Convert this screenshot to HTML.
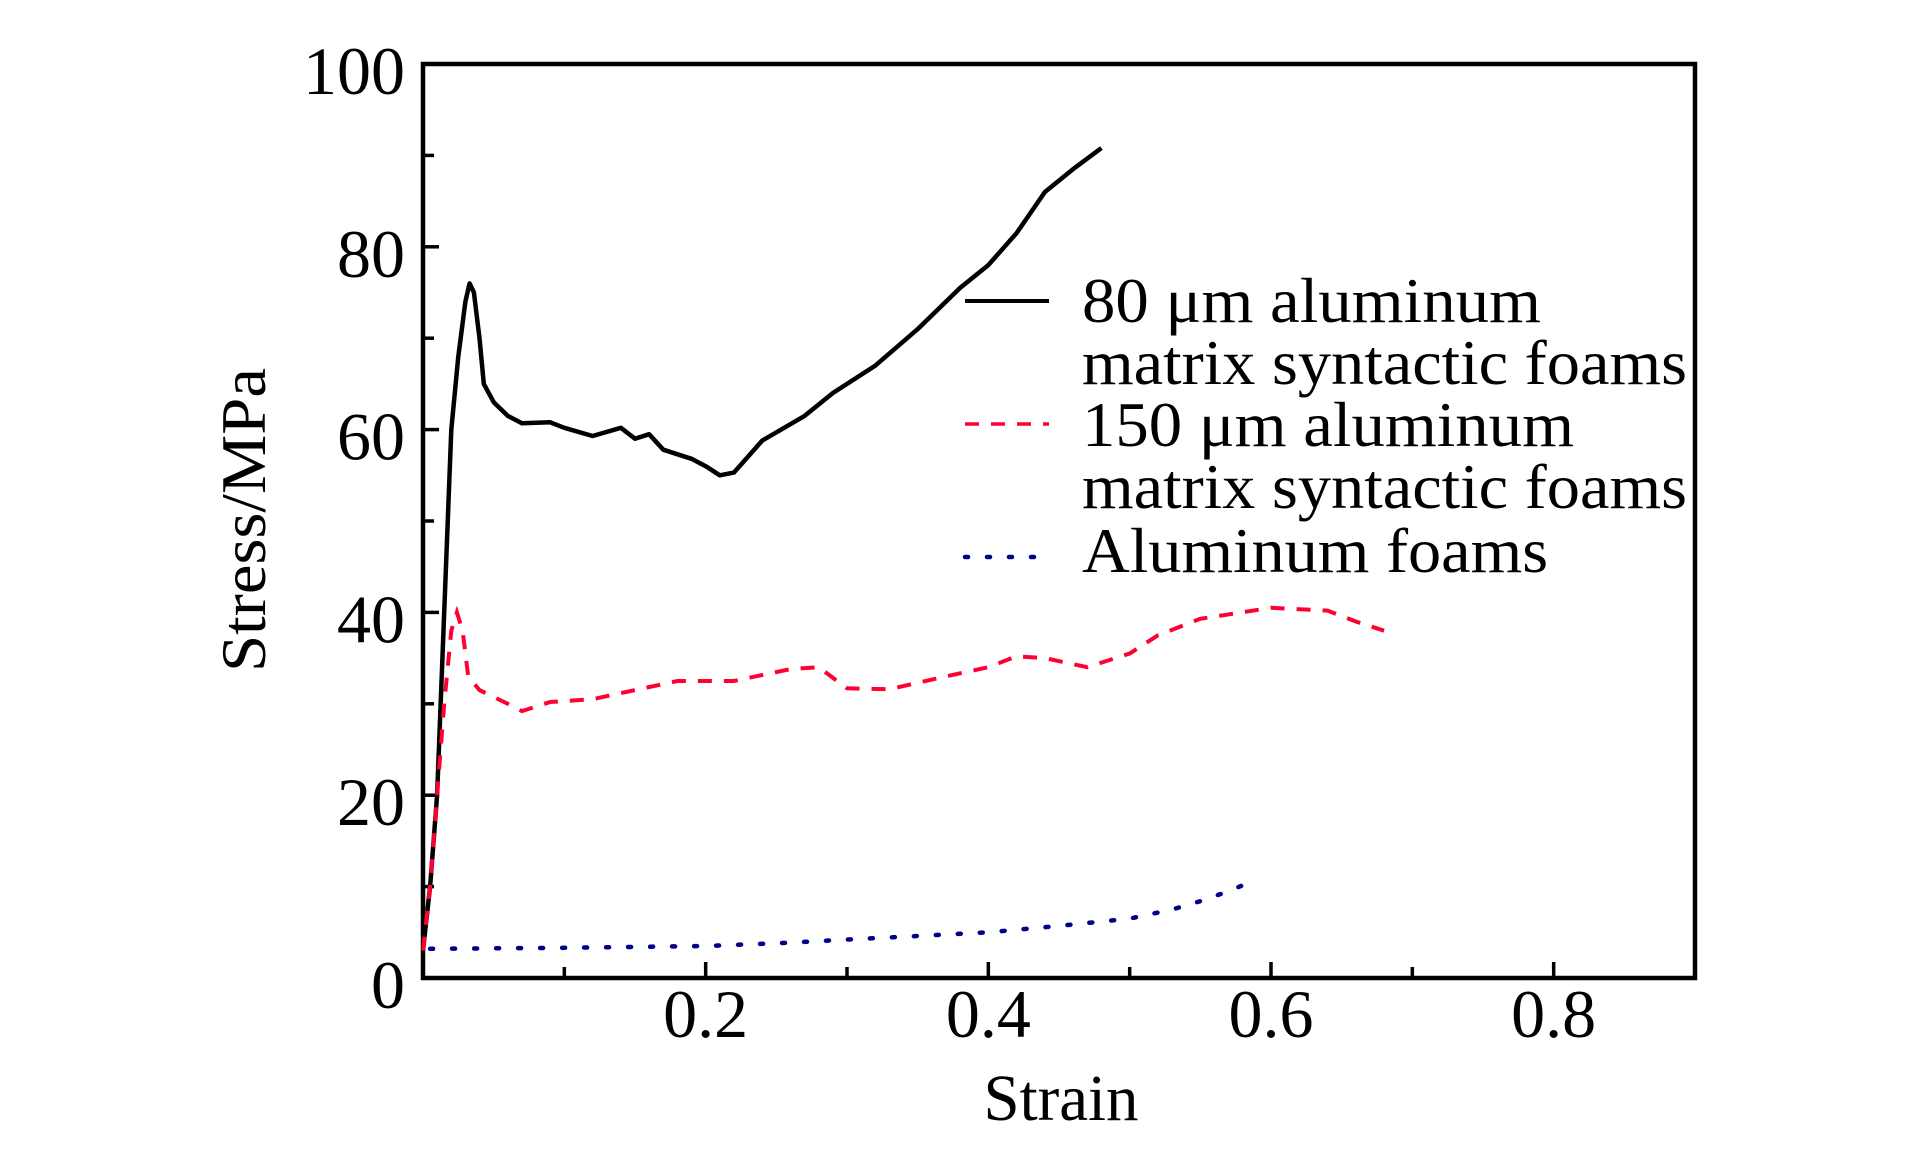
<!DOCTYPE html>
<html><head><meta charset="utf-8"><style>
html,body{margin:0;padding:0;background:#fff;}
svg{display:block;}
text{font-family:"Liberation Serif",serif;fill:#000;}
</style></head><body>
<svg id="chart" width="1923" height="1169" viewBox="0 0 1923 1169">
<g id="axes"></g>
<g id="series"></g>
<g id="legend">
<line x1="965" y1="301" x2="1049" y2="301" stroke="#000" stroke-width="4"/>
<text x="1082" y="322" font-size="64" textLength="459" lengthAdjust="spacingAndGlyphs">80 μm aluminum</text>
<text x="1082" y="384" font-size="64" textLength="605" lengthAdjust="spacingAndGlyphs">matrix syntactic foams</text>
<line x1="965" y1="424" x2="1049" y2="424" stroke="#ff0033" stroke-width="3.5" stroke-dasharray="14,12"/>
<text x="1082" y="446" font-size="64" textLength="492" lengthAdjust="spacingAndGlyphs">150 μm aluminum</text>
<text x="1082" y="508" font-size="64" textLength="605" lengthAdjust="spacingAndGlyphs">matrix syntactic foams</text>
<line x1="965" y1="557" x2="1049" y2="557" stroke="#00008b" stroke-width="4.5" stroke-dasharray="3,19" stroke-linecap="round"/>
<text x="1082" y="572" font-size="64" textLength="466" lengthAdjust="spacingAndGlyphs">Aluminum foams</text>
</g>
<text x="1061" y="1120" font-size="66" text-anchor="middle" textLength="155" lengthAdjust="spacingAndGlyphs">Strain</text>
<text transform="translate(265,520) rotate(-90)" font-size="64" text-anchor="middle" textLength="304" lengthAdjust="spacingAndGlyphs">Stress/MPa</text>
</svg>
<script>
const xTicks=[0.2,0.4,0.6,0.8];
const xTickLabels=["0.2","0.4","0.6","0.8"];
const yTicks=[0,20,40,60,80,100];
const yTickLabels=["0","20","40","60","80","100"];
const s80x=[0,0.005,0.01,0.015,0.02,0.025,0.03,0.033,0.036,0.04,0.043,0.05,0.06,0.07,0.09,0.1,0.12,0.14,0.15,0.16,0.17,0.19,0.2,0.21,0.22,0.24,0.27,0.29,0.32,0.35,0.38,0.4,0.42,0.44,0.46,0.48];
const s80y=[3,10,20,40,60,68,74,76,75,70,65,63,61.5,60.7,60.8,60.2,59.3,60.2,59,59.5,57.8,56.8,56,55,55.3,58.8,61.5,64,67,71,75.5,78,81.5,86,88.5,90.8];
const s150x=[0,0.005,0.01,0.015,0.02,0.024,0.028,0.032,0.04,0.06,0.07,0.09,0.12,0.15,0.18,0.22,0.26,0.28,0.3,0.33,0.37,0.4,0.42,0.44,0.47,0.5,0.52,0.55,0.6,0.64,0.66,0.68];
const s150y=[3,10,20,30,38,40,38,33,31.5,30,29.2,30.2,30.5,31.5,32.5,32.5,33.8,34,31.7,31.6,33,34,35.2,35,34,35.5,37.5,39.3,40.5,40.2,39,38];
const foamX=[0.005,0.1,0.2,0.25,0.3,0.35,0.4,0.45,0.5,0.53,0.55,0.57,0.59];
const foamY=[3.2,3.3,3.5,3.8,4.2,4.6,5,5.7,6.5,7.5,8.4,9.5,10.8];
const L=423,R=1695,T=64,B=978,XMAX=0.9,YMAX=100;
const sx=v=>L+v/XMAX*(R-L), sy=v=>B-v/YMAX*(B-T);
const NS="http://www.w3.org/2000/svg";
const axes=document.getElementById('axes'), series=document.getElementById('series');
function mk(tag,attrs,parent){const e=document.createElementNS(NS,tag);for(const k in attrs)e.setAttribute(k,attrs[k]);parent.appendChild(e);return e;}
const frame=mk('rect',{x:L,y:T,width:R-L,height:B-T,fill:'none',stroke:'#000','stroke-width':4.5},axes);


for(let i=1;i<9;i++){const v=i*0.1;const major=(i%2===0);
 const t=mk('line',{x1:sx(v),x2:sx(v),y1:B,y2:B-(major?16:11),stroke:'#000','stroke-width':3.5},axes);
 
 }
for(let i=1;i<10;i++){const v=i*10;const major=(i%2===0);
 const t=mk('line',{x1:L,x2:L+(major?16:11),y1:sy(v),y2:sy(v),stroke:'#000','stroke-width':3.5},axes);
 
 }
xTicks.forEach((v,i)=>{const t=mk('text',{x:sx(v),y:1037,'font-size':68,'text-anchor':'middle'},axes);t.textContent=xTickLabels[i];
 
 });
yTicks.forEach((v,i)=>{const t=mk('text',{x:405,y:sy(v)+30,'font-size':68,'text-anchor':'end'},axes);t.textContent=yTickLabels[i];
 
 });
function pts(xs,ys){return xs.map((x,i)=>sx(x).toFixed(1)+','+sy(ys[i]).toFixed(1)).join(' ');}
const p80=mk('polyline',{points:pts(s80x,s80y),fill:'none',stroke:'#000','stroke-width':4.5,'stroke-linejoin':'round'},series);


const p150=mk('polyline',{points:pts(s150x,s150y),fill:'none',stroke:'#ff0033','stroke-width':4,'stroke-dasharray':'14,12'},series);


const pf=mk('polyline',{points:pts(foamX,foamY),fill:'none',stroke:'#00008b','stroke-width':4.5,'stroke-dasharray':'3,19','stroke-linecap':'round'},series);


</script>
</body></html>
